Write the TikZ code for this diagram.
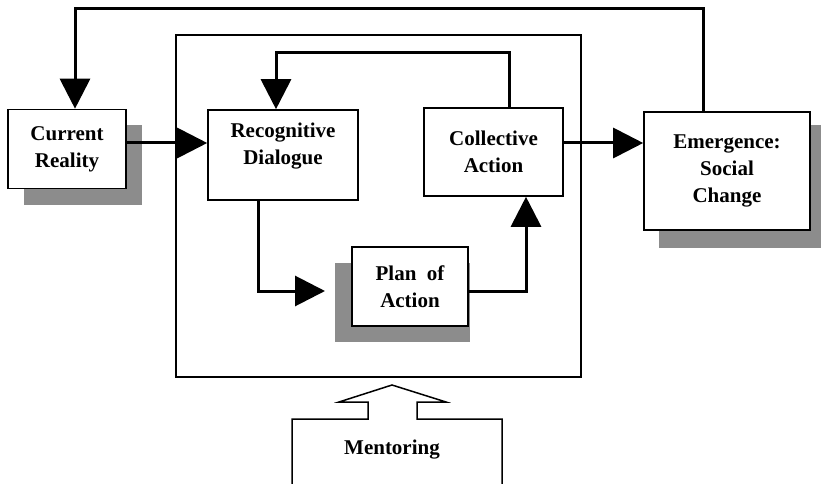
\documentclass[tikz,border=0pt]{standalone}
\usepackage{fontspec}
\setmainfont{Liberation Serif}
\usepackage{tikz}
\usetikzlibrary{arrows.meta}
\definecolor{shadegray}{RGB}{140,140,140}
\begin{document}
\begin{tikzpicture}[x=1pt,y=-1pt]
				\useasboundingbox (0,0) rectangle (822,484);
				% shadows
				\begin{scope}[every path/.style={fill=shadegray}]
					\path (24,125) rectangle (142,205);
					\path (335,263) rectangle (470,342);
					\path (659,125) rectangle (821,248);
				\end{scope}
				\draw[line width=1.5pt] (176,35) rectangle (581,377);
				\begin{scope}[every node/.style = {rectangle, draw, line width=1.6pt, fill=white,
						align=center, font=\bfseries\fontsize{21}{27}\selectfont}]
					\node[minimum width=118, minimum height=79] (cur) at (67,149) {Current\\Reality};
					\node[minimum width=150, minimum height=90] (rec) at (283,155) {};
					\node[minimum width=139, minimum height=88] (col) at (493.5,152) {Collective\\Action};
					\node[minimum width=116, minimum height=79] (plan) at (410,286.5) {Plan~ of\\Action};
					\node[minimum width=166, minimum height=118] (emg) at (727,171) {Emergence:\\Social\\Change};
				\end{scope}
				\begin{scope}[every node/.style = {align=center, font=\bfseries\fontsize{21}{27}\selectfont}]
					\node (rectxt) at (283,146) {Recognitive\\Dialogue};
					\node (ment) at (392,450) {Mentoring};
				\end{scope}
				% mentoring arrow
				\draw[line width=1.5pt] (292,484) -- (292,419) -- (368,419) -- (368,402) -- (339,402)
					-- (392,385) -- (446,402) -- (417,402) -- (417,419) -- (502,419) -- (502,484);
				\begin{scope}[>={Triangle[length=30pt,width=30pt]},
						every path/.style={draw=black, line width=3pt}]
					\path [->] (emg.north -| 703,0) |- (75,9) -- (cur.north -| 75,0);
					\path [->] (cur.east |- 0,143) -- (rec.west |- 0,143);
					\path [->] (col.east |- 0,143) -- (emg.west |- 0,143);
					\path [->] (col.north -| 509,0) |- (276,53) -- (rec.north -| 276,0);
					\path [->] (rec.south -| 258,0) |- (325,291);
					\path [->] (plan.east |- 0,291) -| (col.south -| 526,0);
				\end{scope}
\end{tikzpicture}
\end{document}
